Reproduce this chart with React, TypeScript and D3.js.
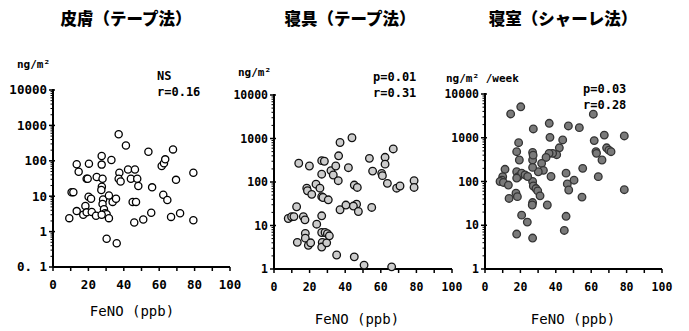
import React from 'react';
import * as d3 from 'd3';

// FeNO (ppb) vs allergen amount
const skinPoints: [number, number][] = [
  [9.2, 2.4], [10.5, 13], [11.5, 13], [13.4, 80], [14.5, 49], [13.4, 3.8], [17.1, 3], [18.3, 5.3],
  [19, 31], [19.6, 31], [20.3, 83], [20.1, 9.7], [21.5, 8.5], [19, 3.5], [21.9, 3.6], [24.7, 35],
  [24.3, 2.8], [27.5, 137], [27.5, 78], [28, 31], [27.6, 18.5], [27.3, 15], [28.3, 8.1], [28, 6],
  [28.8, 4.3], [29.4, 3.3], [30.3, 3.1], [27.5, 3.0], [31.6, 10.5], [31.6, 2.4], [30.3, 0.63],
  [33, 105], [33.7, 6.9], [35.6, 8.5], [36, 0.47], [37.1, 560], [37.5, 46], [37.1, 31], [38.2, 26],
  [41.2, 270], [42.4, 57], [44, 31], [46.3, 57], [47.6, 31], [48.2, 19.5], [45, 6.9], [46.9, 6.9],
  [45.9, 1.8], [51, 2.2], [53.9, 180], [56, 17.8], [55.5, 3.4], [61.4, 71], [62.7, 85], [63.4, 110],
  [62.3, 11], [64.6, 7.8], [66.7, 2.6], [67.8, 210], [69.5, 29], [71.8, 3.3], [79.3, 46], [79.3, 2.1],
];

const beddingPoints: [number, number][] = [
  [8, 14.5], [9.9, 15.9], [11.2, 16], [12.7, 27], [13.1, 4.1], [13.9, 270], [16.5, 16], [17.4, 13.5],
  [17.6, 6.6], [17.6, 5.1], [19.3, 3.5], [20.6, 4], [18.4, 72], [18.8, 63], [19.9, 233], [21.2, 52],
  [23.6, 89], [24, 10.7], [26.8, 310], [28.3, 300], [26.8, 151], [25.8, 72], [26.8, 46], [27.5, 44],
  [26.8, 16.7], [26.8, 6.9], [27.1, 4.1], [26.8, 3.2], [28.7, 6.9], [30, 6.5], [29.6, 4], [31.1, 5.8],
  [30.5, 39], [32, 183], [33.3, 145], [34.7, 233], [36.3, 400], [36.1, 107], [37.1, 810], [41.8, 213],
  [37.1, 23], [40.4, 29.5], [43.8, 1040], [45.1, 85], [46.8, 75], [46.4, 31], [44.6, 28], [47.4, 21],
  [45.1, 1.9], [35.2, 2.1], [50.6, 1.23], [53.6, 350], [55.4, 178], [54.9, 26], [60.5, 158], [60.9, 140],
  [62.4, 370], [62.4, 257], [63.7, 93], [67, 575], [66.1, 1.12], [68.9, 72], [70.8, 81], [78.7, 107],
  [78.7, 75],
];

const bedroomPoints: [number, number][] = [
  [14.5, 3500], [20.2, 5100], [27.3, 1590], [36.3, 2140], [36.7, 1020], [47.1, 1860], [53.3, 1700],
  [61.2, 3450], [67.4, 1150], [78.7, 1100], [61.7, 860], [62.7, 480], [63, 440], [66.1, 310], [68.7, 590],
  [70, 520], [71.2, 480], [64, 129], [78.7, 65], [55.2, 200], [54.8, 44], [50.3, 107], [45.8, 155],
  [46.5, 88], [47.3, 64], [45.8, 16], [44.8, 7.6], [43.9, 890], [42, 590], [40.5, 410], [38.2, 440],
  [36.2, 440], [34.5, 355], [32, 260], [33, 180], [30.1, 167], [37.3, 130], [26.9, 460], [26.9, 310],
  [26.9, 210], [27.2, 400], [26.9, 100], [27.3, 79], [28.8, 69], [29.8, 61], [31.1, 47], [26.9, 33],
  [26.7, 29], [35.2, 29], [19, 770], [17.9, 480], [19.4, 310], [17.9, 167], [18.8, 129], [20.7, 155],
  [22.6, 142], [24.1, 130], [17.9, 120], [11.3, 190], [10, 129], [9.6, 107], [8.5, 100], [10.4, 95],
  [13.2, 83], [13.6, 41], [17.5, 54], [18.3, 45], [20.7, 17], [23.9, 11.8], [17.9, 6.3], [26.9, 5.1],
];

const xTicks = [0, 20, 40, 60, 80, 100];
const skinYTicks = [10000, 1000, 100, 10, 1, 0.1];
const skinYLabels = ['10000', '1000', '100', '10', '1', '0. 1'];
const roomYTicks = [10000, 1000, 100, 10, 1];
const roomYLabels = ['10000', '1000', '100', '10', '1'];

const titles = ['皮膚（テープ法）', '寝具（テープ法）', '寝室（シャーレ法）'];
const units = ['ng/m²', 'ng/m²', 'ng/m² /week'];
const stats = [['NS', 'r=0.16'], ['p=0.01', 'r=0.31'], ['p=0.03', 'r=0.28']];
const xLabel = 'FeNO (ppb)';

const mono = '"DejaVu Sans Mono", "Liberation Mono", monospace';
const jp = '"Noto Sans CJK JP", sans-serif';

type PanelProps = {
  points: [number, number][];
  x0: number; x1: number; yTop: number; yBot: number;
  yMin: number;
  yTicks: number[]; yLabels: string[];
  tickFont: number;
  fill: string; stroke: string; r: number;
  title: string; titleX: number;
  unit: string; unitX: number; unitY: number;
  stat: string[]; statX: number; statY: number;
  xLabelX: number; xLabelY: number;
};

function Panel(p: PanelProps) {
  const x = d3.scaleLinear().domain([0, 100]).range([p.x0, p.x1]);
  const y = d3.scaleLog().domain([p.yMin, 10000]).range([p.yBot, p.yTop]);
  const minor: number[] = [];
  for (let d = p.yMin; d < 10000; d *= 10) {
    for (let k = 2; k <= 9; k++) minor.push(d * k);
  }
  const xMinor = d3.range(0, 101, 10);
  return (
    <g>
      <text x={p.titleX} y={25} textAnchor="middle" fontFamily={jp} fontWeight={900} fontSize={16.5}>{p.title}</text>
      <text x={p.unitX} y={p.unitY} fontFamily={mono} fontWeight="bold" fontSize={11}>{p.unit}</text>
      <text x={p.statX} y={p.statY} fontFamily={mono} fontWeight="bold" fontSize={12}>{p.stat[0]}</text>
      <text x={p.statX} y={p.statY + 16} fontFamily={mono} fontWeight="bold" fontSize={12}>{p.stat[1]}</text>

      {/* axes */}
      <line x1={p.x0} x2={p.x0} y1={p.yTop - 1} y2={p.yBot} stroke="#000" strokeWidth={2} />
      <line x1={p.x0} x2={p.x1} y1={p.yBot} y2={p.yBot} stroke="#000" strokeWidth={2} />
      {minor.map((v, i) => (
        <line key={'m' + i} x1={p.x0 - 2.5} x2={p.x0} y1={y(v)} y2={y(v)} stroke="#000" strokeWidth={1} />
      ))}
      {p.yTicks.map((v, i) => (
        <g key={'y' + i}>
          <line x1={p.x0 - 4} x2={p.x0 + 2} y1={y(v)} y2={y(v)} stroke="#000" strokeWidth={1.5} />
          <text x={p.x0 - 6} y={y(v)} dy="0.35em" textAnchor="end" fontFamily={mono} fontWeight="bold" fontSize={p.tickFont}>{p.yLabels[i]}</text>
        </g>
      ))}
      {xMinor.map((v) => (
        <line key={'x' + v} x1={x(v)} x2={x(v)} y1={p.yBot} y2={p.yBot + 4} stroke="#000" strokeWidth={1.5} />
      ))}
      {xTicks.map((v) => (
        <text key={'xl' + v} x={x(v)} y={p.yBot + 22} textAnchor="middle" fontFamily={mono} fontWeight="bold" fontSize={p.tickFont}>{v}</text>
      ))}
      <text x={p.xLabelX} y={p.xLabelY} textAnchor="middle" fontFamily={mono} fontSize={14}>{xLabel}</text>

      {p.points.map((d, i) => (
        <circle key={i} cx={x(d[0])} cy={y(d[1])} r={p.r} fill={p.fill} stroke={p.stroke} strokeWidth={1.3} />
      ))}
    </g>
  );
}

export default function App() {
  return (
    <svg width={689} height={331} style={{ position: 'absolute', left: 0, top: 0, background: '#fff' }}>
      <rect width={689} height={331} fill="#fff" />
      <Panel points={skinPoints} x0={53} x1={230} yTop={90} yBot={267} yMin={0.1}
        yTicks={skinYTicks} yLabels={skinYLabels} tickFont={12.5}
        fill="#fff" stroke="#000" r={3.6}
        title={titles[0]} titleX={126} unit={units[0]} unitX={17} unitY={68}
        stat={stats[0]} statX={157} statY={80} xLabelX={132} xLabelY={316} />
      <Panel points={beddingPoints} x0={274} x1={452} yTop={95} yBot={269} yMin={1}
        yTicks={roomYTicks} yLabels={roomYLabels} tickFont={11.5}
        fill="#ccc" stroke="#111" r={3.8}
        title={titles[1]} titleX={350} unit={units[1]} unitX={238} unitY={76}
        stat={stats[1]} statX={373} statY={81} xLabelX={357} xLabelY={324} />
      <Panel points={bedroomPoints} x0={485} x1={662} yTop={94} yBot={269} yMin={1}
        yTicks={roomYTicks} yLabels={roomYLabels} tickFont={11.5}
        fill="#7a7a7a" stroke="#333" r={3.8}
        title={titles[2]} titleX={563} unit={units[2]} unitX={446} unitY={82}
        stat={stats[2]} statX={583} statY={93} xLabelX={573} xLabelY={324} />
    </svg>
  );
}
